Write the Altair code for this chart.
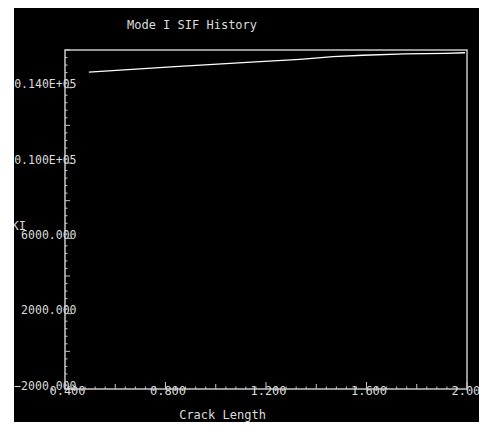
import altair as alt
import pandas as pd
import numpy as np

# ---- data ----
crack_length = [0.495, 0.838, 1.176, 1.335, 1.467, 1.586, 1.753, 1.913, 1.992]
ki_values = [14830, 15120, 15380, 15505, 15645, 15720, 15790, 15825, 15855]

x_domain = [0.4, 2.0]
y_domain = [-2000, 16000]
x_label_values = [0.4, 0.8, 1.2, 1.6, 2.0]
y_label_values = [-2000, 2000, 6000, 10000, 14000]
chart_title = "Mode I SIF History"
x_title = "Crack Length"
y_title = "KI"

W, H = 402, 339
FONT = "DejaVu Sans Mono"
GREY = "#c8c8c8"
LABEL = "#dcdcdc"

df = pd.DataFrame({"crack": crack_length, "ki": ki_values})

# tick tables (minor / medium / major), inward ticks
xi = np.arange(41)
xt = pd.DataFrame({"crack": 0.4 + 0.04 * xi,
                   "kind": np.where(xi % 10 == 0, "major", np.where(xi % 5 == 0, "mid", "minor"))})
yi = np.arange(46)
yt = pd.DataFrame({"ki": -2000 + 400 * yi,
                   "kind": np.where(yi % 10 == 0, "major", np.where(yi % 5 == 0, "mid", "minor"))})

xs = alt.Scale(domain=x_domain, nice=False, zero=False)
ys = alt.Scale(domain=y_domain, nice=False, zero=False)

x_axis = alt.Axis(values=x_label_values, format=".3f", title=x_title,
                  labelPadding=-4, labelOffset=2, labelFlush=False,
                  titleX=157, titleY=25, titleBaseline="middle", titleAlign="center")
y_axis = alt.Axis(values=y_label_values,
                  labelExpr="datum.value >= 10000 ? '0.' + substring(format(datum.value / 100000, '.3f'), 2) + 'E+05' : format(datum.value, '.3f')",
                  title=y_title, labelPadding=-11, labelAlign="right", labelOffset=-3,
                  labelFontSize=11.5,
                  titleAngle=0, titleX=-54, titleY=175, titleAlign="left",
                  titleBaseline="middle")

line = alt.Chart(df).mark_line(color="white", strokeWidth=1.3).encode(
    x=alt.X("crack:Q", scale=xs, axis=x_axis),
    y=alt.Y("ki:Q", scale=ys, axis=y_axis),
)

lens = {"minor": 2.5, "mid": 5, "major": 7}
tick_layers = []
for kind, L in lens.items():
    tick_layers.append(
        alt.Chart(yt[yt.kind == kind]).mark_rule(color=GREY, strokeWidth=1).encode(
            y=alt.Y("ki:Q", scale=ys, axis=y_axis), x=alt.value(0), x2=alt.value(L)))
    tick_layers.append(
        alt.Chart(xt[xt.kind == kind]).mark_rule(color=GREY, strokeWidth=1).encode(
            x=alt.X("crack:Q", scale=xs, axis=x_axis), y=alt.value(H), y2=alt.value(H - L)))

title_text = alt.Chart(pd.DataFrame({"t": [chart_title]})).mark_text(
    align="left", baseline="middle", font=FONT, fontSize=12, color=LABEL
).encode(x=alt.value(62), y=alt.value(-25), text="t:N")

strip = alt.Chart(pd.DataFrame({"a": [0]})).mark_rect(color="white").encode(
    x=alt.value(-57), x2=alt.value(-51), y=alt.value(-42), y2=alt.value(H + 40))

chart = alt.layer(line, *tick_layers, title_text, strip).properties(
    width=W, height=H,
    autosize=alt.AutoSizeParams(type="none"),
    padding={"left": 57, "top": 42, "right": 12, "bottom": 33},
    background="black",
).configure_view(
    stroke=GREY, strokeWidth=1.5
).configure_axis(
    domain=False, ticks=False, grid=False,
    labelFont=FONT, labelFontSize=12, labelColor=LABEL,
    titleFont=FONT, titleFontSize=12, titleColor=LABEL, titleFontWeight="normal",
    labelOverlap=False, labelBound=False,
)

chart.save("out.html", embed_options={"renderer": "svg", "actions": False})
